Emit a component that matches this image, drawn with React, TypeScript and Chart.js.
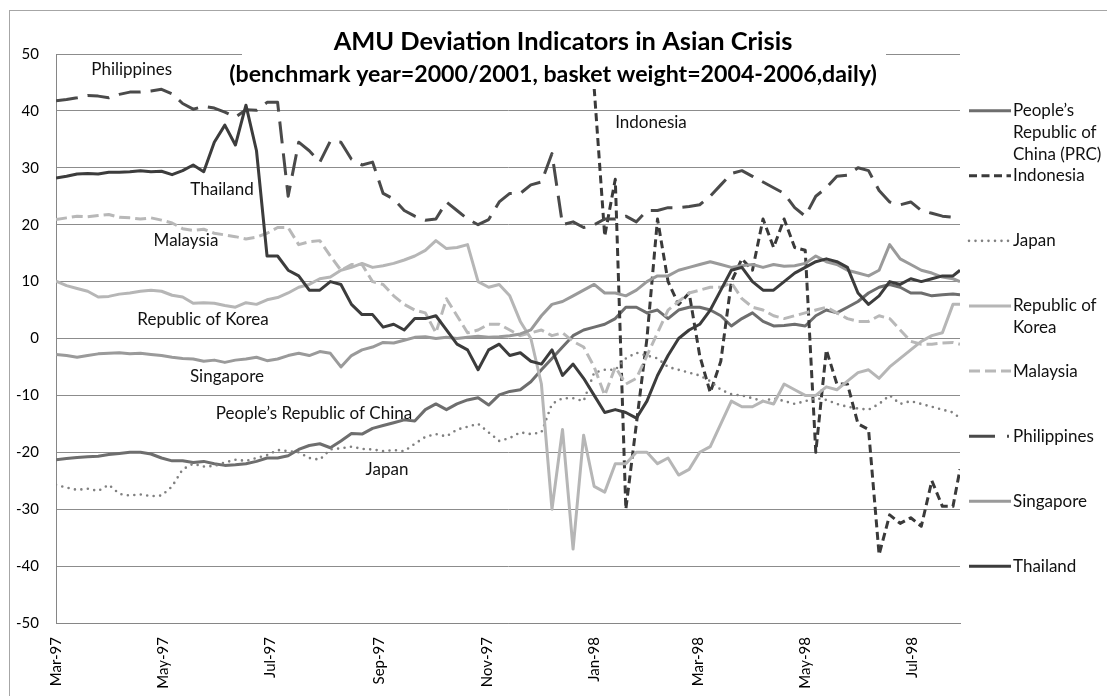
import React, { useEffect, useRef } from "react";
import { Chart, registerables } from "chart.js";

Chart.register(...registerables);

// x values: calendar days since 1 Mar 1997
const DAYS = [
  0, 6, 12, 18, 24, 30, 36, 42, 48, 54, 60, 66, 72, 78, 84, 90, 96, 102, 108, 114,
  120, 126, 132, 138, 144, 150, 156, 162, 168, 174, 180, 186, 192, 198, 204, 210, 216, 222, 228, 234,
  240, 246, 252, 258, 264, 270, 276, 282, 288, 294, 300, 306, 312, 318, 324, 330, 336, 342, 348, 354,
  360, 366, 372, 378, 384, 390, 396, 402, 408, 414, 420, 426, 432, 438, 444, 450, 456, 462, 468, 474,
  480, 486, 492, 498, 504, 510, 514,
];

const MONTH_TICKS = [0, 61, 122, 184, 245, 306, 365, 426, 487];
const MONTH_LABELS = ["Mar-97", "May-97", "Jul-97", "Sep-97", "Nov-97", "Jan-98", "Mar-98", "May-98", "Jul-98"];

const SERIES_NAMES = [
  "People’s Republic of China (PRC)",
  "Indonesia",
  "Japan",
  "Republic of Korea",
  "Malaysia",
  "Philippines",
  "Singapore",
  "Thailand",
];

const PRC = [
  -21.3, -21.1, -20.9, -20.8, -20.7, -20.4, -20.2, -20.0, -20.0, -20.3,
  -21.0, -21.5, -21.5, -21.8, -21.6, -22.0, -22.3, -22.2, -22.0, -21.6,
  -21.0, -21.0, -20.6, -19.5, -18.8, -18.5, -19.2, -18.0, -16.7, -16.8,
  -15.8, -15.3, -14.8, -14.3, -14.5, -12.5, -11.5, -12.5, -11.5, -10.8,
  -10.4, -11.7, -9.9, -9.3, -9.0, -7.6, -5.5, -3.5, -1.5, 0.5,
  1.5, 2.0, 2.5, 3.5, 5.5, 5.5, 4.5, 5.0, 3.5, 5.0,
  5.5, 5.5, 5.0, 4.0, 2.2, 3.5, 4.5, 3.0, 2.2, 2.3,
  2.5, 2.2, 4.0, 5.0, 4.5, 5.5, 6.5, 8.0, 9.0, 9.5,
  9.0, 8.0, 8.0, 7.5, 7.7, 7.8, 7.7,
];

const INDONESIA = [
  null, null, null, null, null, null, null, null, null, null,
  null, null, null, null, null, null, null, null, null, null,
  null, null, null, null, null, null, null, null, null, null,
  null, null, null, null, null, null, null, null, null, null,
  null, null, null, null, null, null, null, null, null, null,
  null, 44, 18, 28, -30, -15, 0, 21, 10, 6,
  8, -3, -9.5, -4, 10, 14, 12, 21, 16, 21,
  16, 15.5, -20, -2, -8, -8, -15, -16, -38, -31,
  -32.5, -31.5, -33, -25, -29.5, -29.5, -23,
];

const JAPAN = [
  -25.7, -26.2, -26.6, -26.4, -26.8, -25.7, -27.3, -27.6, -27.4, -27.7,
  -27.6, -26.0, -23.0, -22.0, -22.5, -22.4, -21.8, -21.3, -21.5, -21.0,
  -20.5, -19.6, -19.8, -20.0, -21.0, -21.3, -19.5, -19.3, -19.0, -19.4,
  -19.5, -19.8, -19.6, -19.8, -18.5, -17.3, -16.8, -17.2, -16.0, -15.5,
  -15.0, -16.5, -18.0, -17.5, -16.5, -16.8, -16.5, -11.5, -10.5, -10.5,
  -11.0, -6.0, -5.5, -5.5, -3.5, -2.5, -3.0, -3.5, -5.0, -5.5,
  -6.0, -6.5, -7.5, -9.0, -9.8, -10.0, -10.5, -11.0, -10.5, -11.0,
  -11.5, -11.0, -10.5, -10.8, -11.5, -12.0, -12.3, -12.5, -11.5, -10.0,
  -11.5, -11.0, -11.5, -12.0, -12.5, -13.0, -14.0,
];

const KOREA = [
  10.1, 9.3, 8.8, 8.3, 7.3, 7.4, 7.8, 8.0, 8.3, 8.5,
  8.3, 7.6, 7.3, 6.2, 6.3, 6.2, 5.8, 5.5, 6.3, 6.0,
  6.8, 7.2, 8.0, 9.0, 9.5, 10.5, 10.8, 12.0, 12.5, 13.2,
  12.5, 12.8, 13.2, 13.8, 14.5, 15.5, 17.2, 15.8, 16.0, 16.5,
  10.0, 9.0, 9.5, 7.5, 3.0, 0.0, -8.0, -30.0, -16.0, -37.0,
  -17.0, -26.0, -27.0, -22.0, -22.0, -20.0, -20.0, -22.0, -21.0, -24.0,
  -23.0, -20.0, -19.0, -15.0, -11.0, -12.0, -12.0, -11.0, -11.5, -8.0,
  -9.0, -10.0, -10.0, -8.5, -9.0, -7.5, -6.0, -5.5, -7.0, -5.0,
  -3.5, -2.0, -0.5, 0.5, 1.0, 6.0, 6.0,
];

const MALAYSIA = [
  20.9, 21.2, 21.5, 21.4, 21.6, 21.8, 21.3, 21.2, 21.0, 21.2,
  20.8, 20.3, 19.3, 19.0, 19.2, 18.5, 18.2, 17.9, 17.5, 17.8,
  18.5, 19.5, 19.5, 16.5, 17.0, 17.2, 14.5, 12.0, 13.0, 13.0,
  10.0, 9.5, 7.5, 6.0, 5.0, 4.5, 1.0, 7.0, 4.0, 1.0,
  1.5, 2.5, 2.5, 1.5, 0.5, 1.0, 1.5, 0.5, 1.0, -0.5,
  -1.5, -5.0, -10.0, -5.0, -8.0, -7.0, -3.0, 1.0, 5.0, 6.5,
  8.0, 8.5, 9.0, 9.0, 9.8, 7.0, 5.5, 5.0, 4.0, 3.5,
  4.0, 4.5, 5.0, 5.5, 4.5, 3.5, 3.0, 3.0, 4.0, 3.5,
  1.5, -0.5, -1.0, -1.0, -0.8, -0.7, -1.0,
];

const PHILIPPINES = [
  41.8, 42.0, 42.3, 42.7, 42.6, 42.3, 42.9, 43.3, 43.3, 43.5,
  43.8, 43.0, 41.3, 40.3, 40.8, 40.5, 39.8, 38.9, 40.2, 40.1,
  41.5, 41.5, 25.0, 34.5, 33.0, 31.0, 34.7, 34.5, 31.5, 30.5,
  31.0, 25.5, 24.5, 22.5, 21.5, 20.8, 21.0, 24.0, 22.5, 21.0,
  20.0, 20.9, 24.0, 25.5, 25.5, 27.0, 27.5, 32.5, 20.0, 20.5,
  19.5, 20.0, 21.0, 21.0, 21.5, 20.5, 22.5, 22.5, 23.0, 23.0,
  23.2, 23.5, 25.0, 27.0, 29.0, 29.5, 28.5, 27.5, 26.5, 25.5,
  23.0, 21.5, 25.0, 26.5, 28.5, 28.7, 30.0, 29.5, 26.0, 24.0,
  23.5, 24.0, 22.5, 22.0, 21.5, 21.3, 21.5,
];

const SINGAPORE = [
  -2.8, -3.0, -3.3, -3.0, -2.7, -2.6, -2.5, -2.7, -2.6, -2.8,
  -3.0, -3.3, -3.5, -3.6, -4.0, -3.8, -4.2, -3.8, -3.6, -3.3,
  -3.9, -3.6, -3.0, -2.6, -3.0, -2.3, -2.6, -5.0, -3.0, -2.0,
  -1.5, -0.7, -0.8, -0.3, 0.2, 0.3, 0.0, 0.2, 0.0, 0.2,
  0.4, 0.2, 0.3, 0.5, 0.8, 1.5, 4.0, 6.0, 6.5, 7.5,
  8.5, 9.5, 8.0, 8.0, 7.5, 8.5, 10.0, 11.0, 11.0, 12.0,
  12.5, 13.0, 13.5, 13.0, 12.5, 12.8, 13.0, 12.5, 13.0, 12.7,
  12.8, 13.2, 14.5, 13.5, 13.0, 12.0, 11.5, 11.0, 12.0, 16.5,
  14.0, 13.0, 12.0, 11.5, 10.8, 10.5, 10.0,
];

const THAILAND = [
  28.2, 28.5, 28.9, 29.0, 28.9, 29.2, 29.2, 29.3, 29.5, 29.3,
  29.4, 28.8, 29.5, 30.5, 29.3, 34.5, 37.5, 34.0, 41.0, 33.0,
  14.5, 14.5, 12.0, 11.0, 8.5, 8.5, 10.0, 9.5, 6.0, 4.2,
  4.2, 2.0, 2.5, 1.5, 3.5, 3.5, 4.0, 1.5, -1.0, -2.0,
  -5.5, -2.0, -1.0, -3.0, -2.5, -4.0, -4.5, -2.0, -6.5, -4.5,
  -7.0, -10.0, -13.0, -12.5, -13.0, -14.0, -11.0, -6.5, -3.0, 0.0,
  1.5, 2.5, 5.0, 8.5, 12.0, 12.5, 10.0, 8.5, 8.5, 10.0,
  11.5, 12.5, 13.5, 14.0, 13.5, 12.5, 8.0, 6.0, 7.5, 10.0,
  9.5, 10.5, 10.0, 10.5, 11.0, 11.0, 12.0,
];

const SERIES_VALUES = [PRC, INDONESIA, JAPAN, KOREA, MALAYSIA, PHILIPPINES, SINGAPORE, THAILAND];

const LEGEND_LINES = [
  ["People’s", "Republic of", "China (PRC)"],
  ["Indonesia"],
  ["Japan"],
  ["Republic of", "Korea"],
  ["Malaysia"],
  ["Philippines"],
  ["Singapore"],
  ["Thailand"],
];

const STYLES = [
  { color: "#6e6e6e", width: 3, dash: [] as number[], legendDash: [] as number[], cap: "butt" },
  { color: "#3a3a3a", width: 3, dash: [8, 4.5], legendDash: [8, 4.5], cap: "butt" },
  { color: "#808080", width: 2.6, dash: [0, 6.5], legendDash: [0, 6.5], cap: "round" },
  { color: "#b6b6b6", width: 3, dash: [] as number[], legendDash: [] as number[], cap: "butt" },
  { color: "#b8b8b8", width: 3, dash: [11, 5], legendDash: [11, 5], cap: "butt" },
  { color: "#4a4a4a", width: 3, dash: [22, 10], legendDash: [26, 12, 2, 12], cap: "butt" },
  { color: "#9a9a9a", width: 3, dash: [] as number[], legendDash: [] as number[], cap: "butt" },
  { color: "#3c3c3c", width: 3, dash: [] as number[], legendDash: [] as number[], cap: "butt" },
];

// in-plot text labels (day, value)
const PLOT_LABELS = [
  { text: "Philippines", day: 43, value: 47.2 },
  { text: "Thailand", day: 94.4, value: 26.1 },
  { text: "Malaysia", day: 73.9, value: 17.3 },
  { text: "Republic of Korea", day: 83.6, value: 3.4 },
  { text: "Singapore", day: 97.2, value: -6.6 },
  { text: "People’s Republic of China", day: 146.7, value: -13.1 },
  { text: "Japan", day: 188.2, value: -23.1 },
  { text: "Indonesia", day: 338.3, value: 38.0 },
];

const TITLE_1 = "AMU Deviation Indicators in Asian Crisis";
const TITLE_2 = "(benchmark year=2000/2001, basket weight=2004-2006,daily)";

const FONT = "Lato, 'Open Sans', sans-serif";

const W = 1107;
const H = 688;

function fitSize(ctx: CanvasRenderingContext2D, text: string, weight: string, target: number) {
  ctx.font = `${weight} 20px ${FONT}`;
  const w = ctx.measureText(text).width;
  return (20 * target) / w;
}

const decorPlugin = {
  id: "decor",
  beforeDraw(chart: any) {
    const ctx = chart.ctx as CanvasRenderingContext2D;
    ctx.save();
    ctx.fillStyle = "#ffffff";
    ctx.fillRect(0, 0, chart.width, chart.height);
    ctx.strokeStyle = "#a6a6a6";
    ctx.lineWidth = 1;
    ctx.strokeRect(1.5, 2.5, chart.width + 20, chart.height + 20);
    ctx.restore();
  },
  afterDraw(chart: any) {
    const ctx = chart.ctx as CanvasRenderingContext2D;
    const xs = chart.scales.x;
    const ys = chart.scales.y;
    const area = chart.chartArea;
    ctx.save();

    // title box
    ctx.fillStyle = "#ffffff";
    ctx.fillRect(234, 12, 644, 69);
    ctx.fillStyle = "#000000";
    ctx.textAlign = "center";
    ctx.textBaseline = "middle";
    const s1 = fitSize(ctx, TITLE_1, "bold", 459);
    ctx.font = `bold ${s1}px ${FONT}`;
    ctx.fillText(TITLE_1, 555, 34);
    const s2 = fitSize(ctx, TITLE_2, "bold", 648);
    ctx.font = `bold ${s2}px ${FONT}`;
    ctx.fillText(TITLE_2, 545, 67);

    // in-plot labels
    ctx.font = `17px ${FONT}`;
    ctx.fillStyle = "#111111";
    for (const l of PLOT_LABELS) {
      ctx.fillText(l.text, xs.getPixelForValue(l.day), ys.getPixelForValue(l.value));
    }

    // legend
    const cy = (area.top + area.bottom) / 2;
    const step = 65.1;
    const lx = area.right + 9;
    ctx.textAlign = "left";
    for (let i = 0; i < STYLES.length; i++) {
      const st = STYLES[i];
      const y = cy + (i - 3.5) * step;
      ctx.save();
      ctx.strokeStyle = st.color;
      ctx.lineWidth = st.width;
      ctx.setLineDash(st.legendDash);
      ctx.lineCap = st.cap as CanvasLineCap;
      ctx.beginPath();
      ctx.moveTo(lx, y);
      ctx.lineTo(lx + 42, y);
      ctx.stroke();
      ctx.restore();
      ctx.fillStyle = "#111111";
      ctx.font = `17px ${FONT}`;
      LEGEND_LINES[i].forEach((t, j) => {
        ctx.fillText(t, lx + 44, y + j * 22);
      });
    }
    ctx.restore();
  },
};

export default function App() {
  const ref = useRef<HTMLCanvasElement | null>(null);

  useEffect(() => {
    if (!ref.current) return;
    const datasets = SERIES_NAMES.map((name, i) => ({
      label: name,
      data: DAYS.map((d, j) => ({ x: d, y: SERIES_VALUES[i][j] })),
      borderColor: STYLES[i].color,
      backgroundColor: STYLES[i].color,
      borderWidth: STYLES[i].width,
      borderDash: STYLES[i].dash,
      borderCapStyle: STYLES[i].cap,
      borderJoinStyle: "round",
      pointRadius: 0,
      pointHoverRadius: 0,
      fill: false,
      tension: 0,
      spanGaps: false,
      order: SERIES_NAMES.length - i,
    }));

    const chart = new Chart(ref.current, {
      type: "line",
      data: { datasets } as any,
      options: {
        responsive: false,
        animation: false,
        devicePixelRatio: 1,
        layout: { padding: { top: 46, right: 155, bottom: 0, left: 0 } },
        plugins: {
          legend: { display: false },
          title: { display: false },
          tooltip: { enabled: false },
        },
        scales: {
          x: {
            type: "linear",
            min: 0,
            max: 514,
            afterBuildTicks: (scale: any) => {
              scale.ticks = MONTH_TICKS.map((v) => ({ value: v }));
            },
            afterFit: (scale: any) => {
              scale.height = H - 615;
            },
            ticks: {
              autoSkip: false,
              minRotation: 90,
              maxRotation: 90,
              padding: 14,
              color: "#000000",
              font: { family: FONT, size: 15 },
              callback: (v: any) => {
                const idx = MONTH_TICKS.indexOf(Number(v));
                return idx >= 0 ? MONTH_LABELS[idx] : "";
              },
            },
            grid: { display: false, drawTicks: false },
            border: { display: true, color: "#868686", width: 1 },
          },
          y: {
            min: -50,
            max: 50,
            afterFit: (scale: any) => {
              scale.width = 48;
            },
            ticks: {
              stepSize: 10,
              padding: 17,
              color: "#000000",
              font: { family: FONT, size: 15 },
            },
            grid: { color: "#8c8c8c", lineWidth: 1, drawTicks: false },
            border: { display: true, color: "#868686", width: 1 },
          },
        },
      } as any,
      plugins: [decorPlugin],
    });
    return () => chart.destroy();
  }, []);

  return (
    <div style={{ width: W, height: H, position: "relative" }}>
      <canvas ref={ref} width={W} height={H} style={{ display: "block" }} />
    </div>
  );
}
